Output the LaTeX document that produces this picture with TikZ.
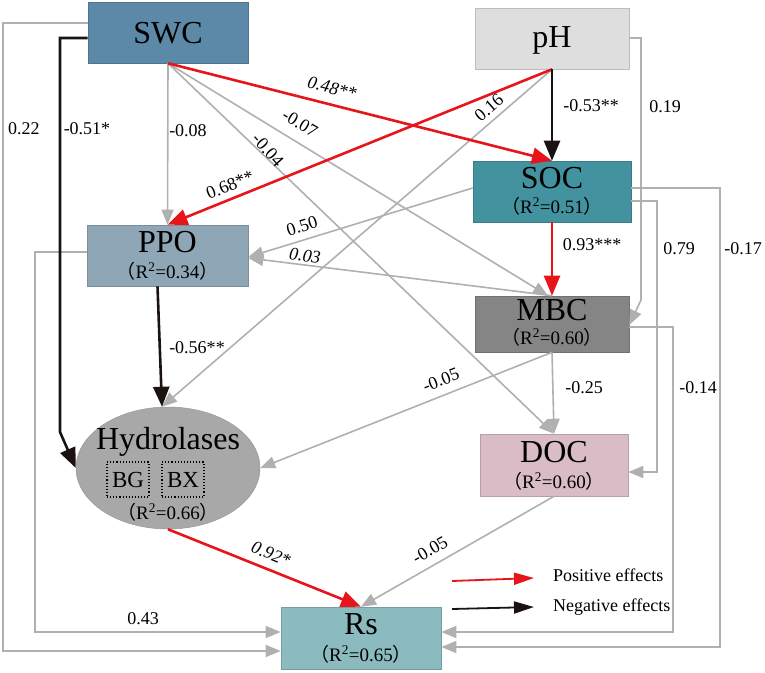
\documentclass[tikz,border=0pt]{standalone}
\usepackage{fontspec}
\setmainfont{Liberation Serif}
\newfontfamily\cjk{Noto Sans CJK SC}
\usetikzlibrary{arrows.meta,shapes.geometric}
\definecolor{cswc}{HTML}{5B89A7}
\definecolor{cph}{HTML}{DEDEDE}
\definecolor{csoc}{HTML}{43929F}
\definecolor{cppo}{HTML}{8EA6B5}
\definecolor{cmbc}{HTML}{858585}
\definecolor{cdoc}{HTML}{D9BCC5}
\definecolor{chyd}{HTML}{A8A8A8}
\definecolor{crs}{HTML}{8BBABF}
\definecolor{cgray}{HTML}{B0B0B0}
\definecolor{cred}{HTML}{E8141B}
\definecolor{cblack}{HTML}{1A1311}
\newcommand{\rsq}[1]{{\cjk （}R\textsuperscript{2}=#1{\cjk ）}}
\tikzset{
  box/.style={draw=#1!85!black, line width=0.6pt, fill=#1, inner sep=0pt},
  bigtxt/.style={font=\fontsize{32}{32}\selectfont, inner sep=0pt},
  rtxt/.style={font=\fontsize{19}{19}\selectfont, inner sep=0pt},
  lbl/.style={font=\fontsize{18}{18}\selectfont, inner sep=0pt},
  ilbl/.style={font=\fontsize{18}{18}\selectfont\itshape, inner sep=0pt},
  garrow/.style={draw=cgray, line width=1.6pt, -{Triangle[length=15pt,width=12pt]}},
  rarrow/.style={draw=cred, line width=2.6pt, -{Triangle[length=20pt,width=16pt]}},
  karrow/.style={draw=cblack, line width=2.6pt, -{Triangle[length=20pt,width=16pt]}},
  dotbox/.style={draw=black, dotted, line width=1.1pt, minimum width=42pt, minimum height=35pt, inner sep=0pt, font=\fontsize{23}{23}\selectfont},
}
\begin{document}
\begin{tikzpicture}[x=1pt,y=-1pt]
\useasboundingbox (0,0) rectangle (765,672);
% boxes
\node[box=cswc, minimum width=160pt, minimum height=61pt] (swc) at (168,32.5) {};
\node[box=cph, minimum width=154pt, minimum height=61pt] (ph) at (552,38.5) {};
\node[box=csoc, minimum width=158pt, minimum height=61pt] (soc) at (552,191.5) {};
\node[box=cppo, minimum width=161pt, minimum height=61pt] (ppo) at (167.5,255.5) {};
\node[box=cmbc, minimum width=154pt, minimum height=56pt] (mbc) at (552,324) {};
\node[box=cdoc, minimum width=148pt, minimum height=62pt] (doc) at (554,465) {};
\node[draw=chyd!90!black, line width=0.5pt, fill=chyd, ellipse, minimum width=184pt, minimum height=122pt, inner sep=0pt] (hyd) at (168,468) {};
\node[box=crs, minimum width=160pt, minimum height=62pt] (rs) at (361,638) {};
% texts
\node[bigtxt] (tswc) at (168,33) {SWC};
\node[bigtxt] (tph) at (552,40) {pH};
\node[bigtxt] (tsoc) at (552,178) {SOC};
\node[rtxt] (rsoc) at (552,206) {\rsq{0.51}};
\node[bigtxt] (tppo) at (167.5,242) {PPO};
\node[rtxt] (rppo) at (167.5,271) {\rsq{0.34}};
\node[bigtxt] (tmbc) at (552,310) {MBC};
\node[rtxt] (rmbc) at (552,337) {\rsq{0.60}};
\node[bigtxt] (tdoc) at (554,452) {DOC};
\node[rtxt] (rdoc) at (554,481) {\rsq{0.60}};
\node[bigtxt] (thyd) at (168,442) {Hydrolases};
\node[dotbox] (bg) at (128,479.5) {BG};
\node[dotbox] (bx) at (183,479.5) {BX};
\node[rtxt] (rhyd) at (168,512) {\rsq{0.66}};
\node[bigtxt] (trs) at (361,624) {Rs};
\node[rtxt] (rrs) at (361,654) {\rsq{0.65}};
% gray connectors
\draw[garrow] (swc.south) -- (ppo.north);
\draw[garrow] (swc.south) -- ([xshift=-4pt]mbc.north);
\draw[garrow] (swc.south) -- (doc.north);
\draw[garrow] (ph.south) -- ([xshift=-6pt]hyd.north);
\draw[garrow] (soc.west |- 0,188) -- (ppo.east |- 0,257);
\draw[garrow] (mbc.north) -- (ppo.east |- 0,258);
\draw[garrow] (mbc.south) -- (hyd.east);
\draw[garrow] (mbc.south) -- (doc.north);
\draw[garrow] (doc.south) -- (rs.north);
\draw[garrow] (ph.east |- 0,38) -- (641,38) -- (641,300) -- (mbc.east |- 0,325);
\draw[garrow] (soc.east |- 0,201) -- (657,201) -- (657,472) -- (doc.east |- 0,472);
\draw[garrow] (soc.east |- 0,188) -- (720,188) -- (720,647) -- (rs.east |- 0,647);
\draw[garrow] (mbc.east |- 0,327) -- (673,327) -- (673,632) -- (rs.east |- 0,632);
\draw[garrow] (swc.west |- 0,23) -- (3,23) -- (3,651) -- (rs.west |- 0,651);
\draw[garrow] (ppo.west |- 0,252) -- (35,252) -- (35,632) -- (rs.west |- 0,632);
% red connectors
\draw[rarrow] (swc.south) -- (soc.north);
\draw[rarrow] (ph.south) -- (ppo.north);
\draw[rarrow] (soc.south) -- (mbc.north);
\draw[rarrow] (hyd.south) -- (rs.north);
% black connectors
\draw[karrow] (ph.south) -- (soc.north);
\draw[karrow] ([xshift=-10pt]ppo.south) -- ([xshift=-6pt]hyd.north);
\draw[karrow] (swc.west |- 0,38) -- (60,38) -- (60,432) -- (hyd.west);
% labels
\node[lbl] (l1) at (24,129) {0.22};
\node[lbl] (l2) at (87,129) {-0.51*};
\node[lbl] (l3) at (188,131) {-0.08};
\node[lbl, rotate=-31] (l4) at (300,123) {-0.07};
\node[lbl, rotate=-48] (l5) at (268,150) {-0.04};
\node[ilbl, rotate=-14] (l6) at (332,88) {0.48**};
\node[lbl, rotate=22] (l7) at (230,185) {0.68**};
\node[lbl, rotate=41] (l8) at (489,108) {0.16};
\node[lbl] (l9) at (591,106) {-0.53**};
\node[lbl] (l10) at (665,107) {0.19};
\node[lbl, rotate=17] (l11) at (302,226) {0.50};
\node[ilbl, rotate=-7] (l12) at (305,256) {0.03};
\node[lbl] (l13) at (592,245) {0.93***};
\node[lbl] (l14) at (679,249) {0.79};
\node[lbl] (l15) at (743,249) {-0.17};
\node[lbl] (l16) at (197,348) {-0.56**};
\node[lbl, rotate=21] (l17) at (441,380) {-0.05};
\node[lbl] (l18) at (584,388) {-0.25};
\node[lbl] (l19) at (698,388) {-0.14};
\node[ilbl, rotate=-22] (l20) at (271,554) {0.92*};
\node[lbl, rotate=30] (l21) at (430,550) {-0.05};
\node[lbl] (l22) at (143,619) {0.43};
% legend
\coordinate (p1) at (452,581);
\coordinate (p2) at (534,578);
\coordinate (n1) at (452,609);
\coordinate (n2) at (534,607);
\draw[draw=cred, line width=1.8pt, -{Triangle[length=20pt,width=12pt]}] (p1) -- (p2);
\draw[draw=cblack, line width=1.8pt, -{Triangle[length=20pt,width=12pt]}] (n1) -- (n2);
\node[lbl, anchor=west] (lp) at (553,575) {Positive effects};
\node[lbl, anchor=west] (ln) at (553,607) {Negative effects};
\end{tikzpicture}
\end{document}
